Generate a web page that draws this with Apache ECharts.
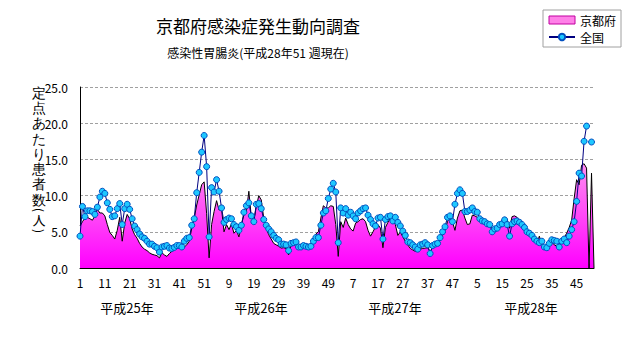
<!DOCTYPE html>
<html><head><meta charset="utf-8">
<script src="https://cdn.jsdelivr.net/npm/echarts@6/dist/echarts.min.js"></script>
<style>html,body{margin:0;padding:0;background:#fff}#c{width:631px;height:347px}</style>
</head><body><div id="c"></div>
<script>
// ---- data ----
const yearKeys = ['H25', 'H26', 'H27', 'H28'];
const weeksPerYear = [52, 52, 52, 52];
const yearLabels = ['平成25年', '平成26年', '平成27年', '平成28年'];
const yTicks = [0, 5, 10, 15, 20, 25];

// 京都府 (定点あたり患者数) per week, H25w1 .. H28w52
const kyoto = [
 5.8,6.4,6.9,7.0,6.8,6.6,7.2,8.1,7.6,7.6, 7.2,6.0,4.9,4.5,4.0,5.2,7.0,3.7,6.2,7.4,
 6.8,5.4,4.6,4.1,3.4,2.9,2.6,2.4,2.1,1.9, 1.8,1.7,1.4,2.1,1.8,1.6,2.0,2.3,2.5,2.75,
 3.2,2.6,2.9,3.2,3.7,5.5,6.9,8.7,10.1,11.5, 11.9,7.5,1.4,6.0,7.8,9.3,8.0,8.2,5.0,6.0,
 5.3,6.1,4.8,5.2,4.3,6.0,7.3,7.8,10.6,7.0, 6.5,8.5,10.0,9.4,6.9,5.5,4.6,4.0,3.4,3.2,
 3.0,2.75,2.8,2.7,1.8,3.2,3.2,3.3,3.0,2.9, 3.1,3.0,3.1,3.4,4.0,4.7,5.0,6.9,8.6,8.3,
 8.3,8.6,8.5,6.0,1.6,6.4,5.6,6.9,6.0,5.4, 5.1,6.2,6.4,6.7,6.8,6.4,5.2,4.4,5.0,5.7,
 6.0,5.5,2.8,5.6,6.3,6.9,6.5,6.0,4.5,5.0, 4.3,3.7,3.2,2.7,2.5,2.3,2.4,2.6,2.7,2.75,
 2.8,2.3,2.8,3.2,3.4,3.8,4.6,5.2,6.4,7.1, 6.4,5.2,6.9,7.9,8.0,6.9,6.0,6.1,7.3,7.2,
 7.0,6.8,6.4,6.5,6.3,6.1,5.5,5.4,5.7,6.2, 6.6,7.0,6.8,5.5,7.1,7.2,7.0,6.6,6.0,5.5,
 5.0,4.6,4.4,3.9,3.4,4.4,3.2,2.75,2.8,3.3, 3.6,3.2,3.0,3.3,3.7,4.2,4.8,5.6,6.6,9.6,
 12.2,11.5,14.2,14.4,13.8,0,13.1,0
];
// 全国 per week, same categories (null = no value)
const national = [
 4.4,8.5,7.1,7.9,7.9,7.8,7.4,8.4,9.8,10.6, 10.3,9.0,8.1,7.1,7.2,8.2,8.9,6.0,8.2,8.8,
 8.1,6.8,5.8,5.3,4.7,4.3,4.1,3.7,3.3,3.3, 3.0,2.8,2.2,2.9,3.0,3.1,2.75,2.7,2.85,3.1,
 3.1,2.9,3.7,4.1,4.2,5.9,6.8,10.4,13.2,16.0, 18.3,14.0,4.3,11.1,10.5,12.2,10.6,8.3,6.3,6.7,
 6.9,6.8,6.0,5.7,5.2,5.9,7.7,8.6,9.0,7.2, 6.4,8.8,8.9,8.2,6.7,5.9,5.4,5.0,4.5,4.1,
 3.9,3.3,3.3,3.2,2.4,3.4,3.5,3.6,2.9,2.9, 3.1,3.0,2.9,3.0,3.7,4.2,4.2,5.9,7.6,7.9,
 9.6,10.9,11.7,10.5,3.5,8.3,7.6,8.2,7.3,7.7, 7.2,6.8,7.6,7.9,8.2,8.3,7.3,6.7,6.1,5.8,
 6.9,7.0,4.0,6.7,7.1,7.2,6.5,7.0,6.3,5.8, 5.1,4.5,3.6,3.5,3.2,2.9,2.6,3.2,3.3,3.5,
 3.2,2.0,3.1,3.3,3.4,4.2,5.0,5.7,7.0,7.2, 6.4,8.8,10.3,10.8,10.3,7.8,7.8,8.0,8.3,7.8,
 7.7,6.8,6.5,6.4,6.1,6.0,5.0,5.4,5.5,6.0, 6.1,6.65,6.0,4.4,6.1,6.4,6.5,6.3,6.0,5.6,
 5.0,4.8,4.5,4.0,3.7,3.5,3.7,2.9,2.8,3.4, 3.9,3.8,3.7,2.9,3.7,4.0,3.5,4.4,5.3,6.4,
 9.2,13.1,12.7,17.5,19.6,null,17.4,null
];

// ---- categories ----
const categories = [];
yearKeys.forEach((k, i) => { for (let w = 1; w <= weeksPerYear[i]; w++) categories.push(k + '-' + w); });

const FONT = '"Noto Sans CJK JP", "Noto Sans", sans-serif';
const chart = echarts.init(document.getElementById('c'), null, { renderer: 'svg' });

const yearPos = [127, 261, 395, 531];

chart.setOption({
  animation: false,
  backgroundColor: '#fff',
  textStyle: { fontFamily: FONT },
  title: [
    { text: '京都府感染症発生動向調査', left: 258, top: 17, textAlign: 'center', padding: 0,
      textStyle: { fontSize: 17, fontWeight: 'normal', color: '#000', fontFamily: FONT } },
    { text: '感染性胃腸炎(平成28年51 週現在)', left: 258, top: 46, textAlign: 'center', padding: 0,
      textStyle: { fontSize: 12, fontWeight: 'normal', color: '#000', fontFamily: FONT } }
  ],
  legend: {
    orient: 'vertical', left: 543, top: 10, padding: [4, 5, 4, 5],
    borderColor: '#a0a0a0', borderWidth: 1, itemGap: 5, itemWidth: 26, itemHeight: 8,
    textStyle: { fontSize: 12, color: '#000', fontFamily: FONT },
    data: [
      { name: '京都府', icon: 'rect', itemStyle: { color: '#ff80e8', borderColor: '#c000a0', borderWidth: 1 } },
      { name: '全国' }
    ]
  },
  grid: { left: 80, right: 37, top: 87, bottom: 79, containLabel: false },
  xAxis: {
    type: 'category', data: categories, boundaryGap: false,
    axisLine: { lineStyle: { color: '#000', width: 1 } },
    axisTick: { show: true, inside: true, length: 4, interval: 4, lineStyle: { color: '#000' } },
    axisLabel: { interval: 9, margin: 8, fontSize: 12, color: '#000', fontFamily: FONT,
      formatter: v => v.split('-')[1] },
    splitLine: { show: false }
  },
  yAxis: {
    type: 'value', min: yTicks[0], max: yTicks[yTicks.length - 1], interval: 5,
    axisLine: { show: true, lineStyle: { color: '#000', width: 1 } },
    axisTick: { show: false },
    axisLabel: { margin: 12, fontSize: 12, color: '#000', fontFamily: FONT, formatter: v => v.toFixed(1) },
    splitLine: { show: true, lineStyle: { color: '#a0a0a0', type: [3, 2], width: 1 } }
  },
  graphic: [
    { type: 'text', left: 32, top: 85, silent: true,
      style: { text: '定\n点\nあ\nた\nり\n患\n者\n数', fontSize: 14, lineHeight: 15.3, fill: '#000', font: '14px ' + FONT } },
    { type: 'text', x: 39, y: 210, rotation: -Math.PI / 2, silent: true,
      style: { text: '(', fill: '#000', fontSize: 12, fontFamily: FONT, textAlign: 'center', textVerticalAlign: 'middle' } },
    { type: 'text', x: 39, y: 219.5, silent: true,
      style: { text: '人', fill: '#000', fontSize: 13, fontFamily: FONT, textAlign: 'center', textVerticalAlign: 'middle', lineHeight: 13 } },
    { type: 'text', x: 39, y: 231, rotation: -Math.PI / 2, silent: true,
      style: { text: ')', fill: '#000', fontSize: 12, fontFamily: FONT, textAlign: 'center', textVerticalAlign: 'middle' } }
  ].concat(yearLabels.map((t, i) => ({
    type: 'text', x: yearPos[i], y: 307, silent: true,
    style: { text: t, fill: '#000', fontSize: 13, fontFamily: FONT, textAlign: 'center', textVerticalAlign: 'middle' }
  }))),
  series: [
    {
      name: '京都府', type: 'line', data: kyoto, showSymbol: false, symbol: 'none', z: 1,
      lineStyle: { color: '#000', width: 1 },
      itemStyle: { color: '#ff80e8' },
      areaStyle: {
        opacity: 1,
        color: { type: 'linear', x: 0, y: 87, x2: 0, y2: 268, global: true,
          colorStops: [ { offset: 0, color: '#ffd0f0' }, { offset: 0.45, color: '#ff88f0' }, { offset: 1, color: '#ff00ff' } ] }
      }
    },
    {
      name: '全国', type: 'line', data: national, symbol: 'circle', symbolSize: 6,
      showSymbol: true, showAllSymbol: true, connectNulls: false, z: 3,
      lineStyle: { color: '#000080', width: 1 },
      itemStyle: { color: '#1ec8ff', borderColor: '#0050c0', borderWidth: 1 }
    }
  ]
});
</script>
</body></html>
